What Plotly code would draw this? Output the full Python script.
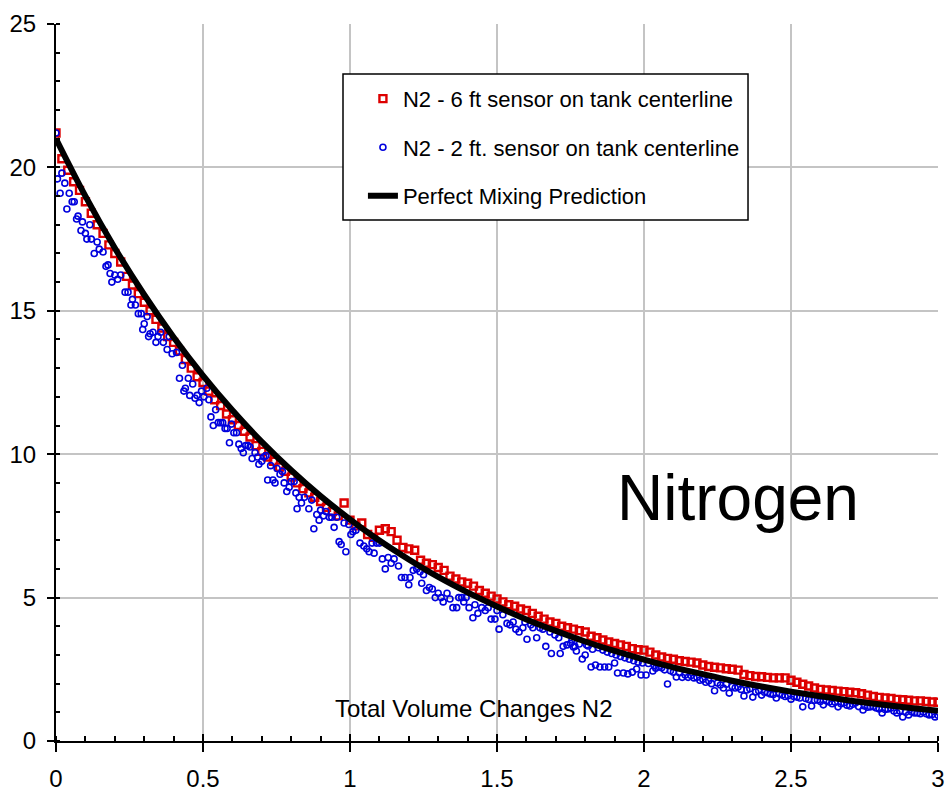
import numpy as np
import plotly.graph_objects as go

# ---------------- data ----------------
# N2 - 6 ft sensor (red), sampled every 0.02 volume changes
red_x = np.round(np.arange(0, 3.0001, 0.02), 2)
red_y = [21.2, 20.3, 19.9, 19.5, 19.2, 18.8, 18.4, 18.0, 17.7, 17.3,
         17.0, 16.7, 16.2, 15.9, 15.6, 15.3, 15.0, 14.7, 14.4, 14.1,
         13.9, 13.6, 13.3, 13.0, 12.7, 12.5, 12.2, 11.9, 11.7, 11.4,
         11.2, 11.0, 10.8, 10.6, 10.3, 10.1, 9.9, 9.75, 9.55, 9.4,
         9.2, 9.0, 8.8, 8.65, 8.5, 8.35, 8.15, 8.0, 7.85, 8.3,
         7.7, 7.5, 7.6, 7.2, 7.1, 7.35, 7.4, 7.3, 7.0, 6.75,
         6.7, 6.65, 6.3, 6.2, 6.15, 6.05, 5.95, 5.75, 5.65, 5.55,
         5.5, 5.4, 5.25, 5.15, 5.05, 4.95, 4.85, 4.75, 4.7, 4.6,
         4.55, 4.45, 4.35, 4.25, 4.15, 4.1, 4.0, 3.95, 3.9, 3.85,
         3.8, 3.65, 3.6, 3.52, 3.45, 3.4, 3.35, 3.3, 3.22, 3.18,
         3.17, 3.1, 3.0, 2.93, 2.88, 2.85, 2.8, 2.77, 2.75, 2.72,
         2.65, 2.6, 2.57, 2.55, 2.52, 2.5, 2.47, 2.32, 2.28, 2.25,
         2.24, 2.22, 2.2, 2.2, 2.2, 2.12, 2.05, 1.98, 1.92, 1.85,
         1.8, 1.78, 1.76, 1.74, 1.72, 1.7, 1.68, 1.65, 1.6, 1.55,
         1.52, 1.5, 1.48, 1.45, 1.44, 1.42, 1.4, 1.4, 1.38, 1.36,
         1.35]

# N2 - 2 ft sensor (blue)
blue_x = [0.0, 0.005, 0.014, 0.02, 0.03, 0.037, 0.045, 0.055, 0.062, 0.07,
          0.075, 0.085, 0.09, 0.1, 0.105, 0.115, 0.12, 0.13, 0.14, 0.147,
          0.16, 0.17, 0.177, 0.184, 0.19, 0.2, 0.21, 0.22, 0.235, 0.245,
          0.255, 0.26, 0.27, 0.28, 0.29, 0.295, 0.30, 0.31, 0.315, 0.32,
          0.33, 0.34, 0.347, 0.356, 0.365, 0.378, 0.385, 0.395, 0.41, 0.42,
          0.43, 0.435, 0.44, 0.45, 0.455, 0.465, 0.473, 0.48, 0.487, 0.495,
          0.503, 0.513, 0.52, 0.527, 0.535, 0.543, 0.552, 0.56, 0.567, 0.575,
          0.582, 0.59, 0.597, 0.605, 0.614, 0.622, 0.63, 0.637, 0.645, 0.653,
          0.66, 0.667, 0.677, 0.685, 0.69, 0.70, 0.707, 0.714, 0.72, 0.73,
          0.738, 0.745, 0.752, 0.762, 0.77, 0.776, 0.785, 0.793, 0.80, 0.81,
          0.816, 0.82, 0.827, 0.835, 0.845, 0.86, 0.87, 0.877, 0.887, 0.895,
          0.90, 0.91, 0.918, 0.93, 0.938, 0.946, 0.955, 0.963, 0.97, 0.98,
          0.986, 0.996, 1.003, 1.01, 1.02, 1.034, 1.047, 1.057, 1.065, 1.075,
          1.082, 1.09, 1.1, 1.11, 1.12, 1.13, 1.14, 1.15, 1.165, 1.175,
          1.187, 1.2, 1.204, 1.215, 1.227, 1.238, 1.244, 1.25, 1.26, 1.27,
          1.28, 1.29, 1.3, 1.31, 1.317, 1.33, 1.34, 1.35, 1.363, 1.37,
          1.38, 1.387, 1.395, 1.405, 1.418, 1.425, 1.435, 1.448, 1.46, 1.47,
          1.48, 1.493, 1.5, 1.507, 1.52, 1.534, 1.544, 1.555, 1.564, 1.575,
          1.588, 1.595, 1.602, 1.615, 1.622, 1.635, 1.646, 1.656, 1.666, 1.68,
          1.685, 1.697, 1.71, 1.715, 1.725, 1.738, 1.75, 1.755, 1.76, 1.765,
          1.77, 1.78, 1.79, 1.8, 1.805, 1.81, 1.82, 1.825, 1.835, 1.845,
          1.85, 1.86, 1.866, 1.875, 1.88, 1.89, 1.9, 1.905, 1.91, 1.92,
          1.93, 1.935, 1.945, 1.95, 1.96, 1.965, 1.975, 1.98, 1.99, 1.995,
          2.007, 2.015, 2.03, 2.035, 2.04, 2.05, 2.06, 2.07, 2.08, 2.09,
          2.1, 2.11, 2.12, 2.13, 2.14, 2.15, 2.16, 2.17, 2.18, 2.19,
          2.2, 2.21, 2.22, 2.23, 2.24, 2.25, 2.26, 2.27, 2.28, 2.29,
          2.3, 2.31, 2.32, 2.33, 2.34, 2.35, 2.36, 2.37, 2.38, 2.39,
          2.4, 2.41, 2.42, 2.43, 2.44, 2.45, 2.46, 2.47, 2.48, 2.49,
          2.5, 2.51, 2.52, 2.53, 2.54, 2.55, 2.56, 2.57, 2.58, 2.59,
          2.6, 2.61, 2.62, 2.63, 2.64, 2.65, 2.66, 2.67, 2.68, 2.69,
          2.7, 2.71, 2.72, 2.73, 2.745, 2.75, 2.76, 2.77, 2.78, 2.79,
          2.8, 2.81, 2.82, 2.83, 2.84, 2.85, 2.86, 2.87, 2.88, 2.89,
          2.9, 2.91, 2.92, 2.93, 2.94, 2.95, 2.96, 2.97, 2.98, 2.99, 3.0]
blue_y = [21.2, 19.6, 19.1, 19.8, 19.45, 18.55, 19.1, 18.8, 18.8, 18.2,
          18.3, 17.8, 18.1, 17.7, 17.5, 18.0, 17.5, 17.0, 17.4, 17.15,
          17.05, 16.55, 16.6, 16.3, 16.0, 16.25, 16.1, 16.25, 15.65, 15.65,
          15.2, 15.4, 15.2, 14.9, 14.9, 14.35, 14.55, 14.8, 14.1, 14.2,
          14.25, 13.9, 14.1, 14.25, 13.9, 13.65, 14.1, 13.5, 13.55, 12.65,
          13.1, 12.2, 12.3, 12.65, 12.05, 12.45, 11.95, 12.05, 11.8, 12.2,
          12.0, 12.3, 11.9, 11.3, 11.0, 11.55, 11.1, 11.1, 11.1, 10.9,
          10.9, 10.4, 11.05, 10.75, 10.75, 10.35, 10.2, 10.05, 10.3, 10.3,
          10.25, 9.85, 10.05, 9.9, 9.65, 9.75, 9.9, 9.95, 9.1, 9.6,
          9.1, 9.0, 9.5, 9.3, 9.4, 9.0, 8.7, 8.85, 9.05, 9.05,
          8.65, 8.1, 8.5, 8.3, 8.5, 8.1, 8.4, 7.4, 7.9, 7.7,
          8.05, 7.85, 8.0, 7.8, 7.8, 7.45, 7.8, 6.95, 6.85, 7.6,
          6.6, 7.55, 7.2, 7.3, 7.35, 6.9, 6.8, 6.7, 6.6, 6.9,
          6.55, 6.9, 6.9, 6.35, 6.0, 6.4, 6.2, 6.35, 6.1, 5.7,
          5.7, 5.45, 5.7, 5.95, 6.0, 5.9, 5.5, 5.8, 5.25, 5.35,
          5.3, 5.0, 5.15, 5.0, 4.85, 5.15, 4.95, 4.65, 4.65, 5.0,
          5.0, 4.85, 5.0, 4.65, 4.3, 4.75, 4.45, 4.65, 4.55, 4.65,
          4.25, 4.25, 4.55, 3.9, 4.4, 4.1, 4.05, 4.15, 3.9, 3.8,
          3.95, 4.15, 3.55, 4.05, 3.95, 3.6, 3.95, 3.9, 3.3, 3.8,
          3.05, 3.7, 3.6, 3.05, 3.3, 3.35, 3.4, 3.52, 3.28, 3.3,
          3.14, 3.38, 2.86, 3.0, 3.35, 3.31, 2.58, 3.2, 2.65, 3.25,
          2.58, 3.17, 2.58, 3.1, 2.58, 3.05, 2.72, 3.0, 2.37, 2.95,
          2.37, 2.9, 2.34, 2.85, 2.4, 2.8, 2.51, 2.75, 2.3, 2.72,
          2.3, 2.7, 2.44, 2.62, 2.54, 2.6, 2.55, 2.48, 1.99, 2.45,
          2.4, 2.23, 2.38, 2.22, 2.3, 2.22, 2.28, 2.2, 2.22, 2.12,
          2.15, 2.05, 2.1, 2.0, 1.75, 2.02, 1.95, 1.85, 1.98, 1.67,
          1.9, 1.85, 1.88, 1.8, 1.57, 1.78, 1.82, 1.53, 1.71, 1.75,
          1.6, 1.7, 1.68, 1.64, 1.62, 1.5, 1.65, 1.6, 1.55, 1.58,
          1.46, 1.55, 1.53, 1.5, 1.19, 1.48, 1.45, 1.22, 1.42, 1.43,
          1.38, 1.26, 1.4, 1.36, 1.3, 1.35, 1.19, 1.3, 1.33, 1.25,
          1.22, 1.28, 1.33, 1.2, 1.08, 1.22, 1.18, 1.19, 1.2, 1.15,
          1.12, 0.98, 1.1, 1.12, 1.15, 1.05, 0.98, 1.05, 0.84, 1.0,
          0.91, 1.02, 0.98, 0.98, 0.95, 1.01, 0.95, 0.91, 0.92, 0.84, 0.9]

# Perfect mixing prediction (black)
pm_x = [0.0, 0.1, 0.2, 0.3, 0.4, 0.5, 0.6, 0.7, 0.8, 0.9, 1.0,
        1.1, 1.2, 1.3, 1.4, 1.5, 1.6, 1.7, 1.8, 1.9, 2.0,
        2.1, 2.2, 2.3, 2.4, 2.5, 2.6, 2.7, 2.8, 2.9, 3.0]
pm_y = [21.0, 19.0, 17.19, 15.56, 14.08, 12.74, 11.53, 10.43, 9.44, 8.54, 7.73,
        6.99, 6.33, 5.72, 5.18, 4.69, 4.24, 3.84, 3.47, 3.14, 2.84,
        2.57, 2.33, 2.10, 1.90, 1.72, 1.56, 1.41, 1.28, 1.16, 1.05]

names = ["N2 - 6 ft sensor on tank centerline",
         "N2 - 2 ft. sensor on tank centerline",
         "Perfect Mixing Prediction"]

FONT = "Liberation Sans, Arial, sans-serif"

fig = go.Figure()
fig.add_trace(go.Scatter(
    x=red_x, y=red_y, mode="markers", name=names[0], legendgroup="a",
    marker=dict(symbol="square-open", size=7, color="#dd0000",
                line=dict(width=2.4, color="#dd0000"))))
fig.add_trace(go.Scatter(
    x=blue_x, y=blue_y, mode="markers", name=names[1], legendgroup="b",
    marker=dict(symbol="circle-open", size=6, color="#0000dd",
                line=dict(width=1.6, color="#0000dd"))))
fig.add_trace(go.Scatter(
    x=pm_x, y=pm_y, mode="lines", name=names[2], legendgroup="c",
    line=dict(color="black", width=6, shape="spline")))
# helper trace for the overlay axis (crossing major ticks)
fig.add_trace(go.Scatter(x=[], y=[], xaxis="x2", showlegend=False,
                         hoverinfo="skip"))

fig.update_layout(
    width=945, height=796,
    margin=dict(l=56, r=7, t=24, b=55),
    paper_bgcolor="white", plot_bgcolor="white",
    showlegend=True,
    legend=dict(x=0.348, y=0.925, xanchor="left", yanchor="top",
                bgcolor="rgba(0,0,0,0)", borderwidth=0,
                font=dict(family=FONT, size=22, color="black"),
                tracegroupgap=17, itemwidth=30),
    xaxis=dict(range=[0, 3], tick0=0, dtick=0.5, showgrid=True,
               gridcolor="#c4c4c4", gridwidth=1.5, zeroline=False,
               showline=True, linecolor="black", linewidth=2,
               ticks="outside", ticklen=9, tickwidth=2, tickcolor="black",
               tickfont=dict(family=FONT, size=24, color="black"),
               ticklabelstandoff=6, automargin=False,
               minor=dict(dtick=0.1, ticks="inside", ticklen=5,
                          tickwidth=1.5, tickcolor="black", showgrid=False)),
    xaxis2=dict(range=[0, 3], matches="x", overlaying="x", anchor="y",
                side="bottom", tick0=0, dtick=0.5, showgrid=False,
                zeroline=False, showline=False, showticklabels=False,
                ticks="inside", ticklen=7, tickwidth=2, tickcolor="black",
                automargin=False),
    yaxis=dict(range=[0, 25], tick0=0, dtick=5, showgrid=True,
               gridcolor="#c4c4c4", gridwidth=1.5, zeroline=False,
               showline=True, linecolor="black", linewidth=2,
               ticks="outside", ticklen=7, tickwidth=2, tickcolor="black",
               tickfont=dict(family=FONT, size=24, color="black"),
               ticklabelstandoff=6, automargin=False,
               minor=dict(dtick=1, ticks="inside", ticklen=4,
                          tickwidth=1.5, tickcolor="black", showgrid=False)),
    shapes=[dict(type="rect", xref="paper", yref="paper",
                 x0=0.3254, x1=0.7846, y0=0.7266, y1=0.9303,
                 line=dict(color="black", width=1.5), fillcolor="white",
                 layer="above")],
    annotations=[
        dict(text="Nitrogen", xref="paper", yref="paper", x=0.773, y=0.339,
             xanchor="center", yanchor="middle", showarrow=False,
             font=dict(family=FONT, size=64, color="black")),
        dict(text="Total Volume Changes N2", xref="paper", yref="paper",
             x=0.474, y=0.046, xanchor="center", yanchor="middle",
             showarrow=False,
             font=dict(family=FONT, size=24, color="black")),
    ],
)

fig.write_html("out.html")
